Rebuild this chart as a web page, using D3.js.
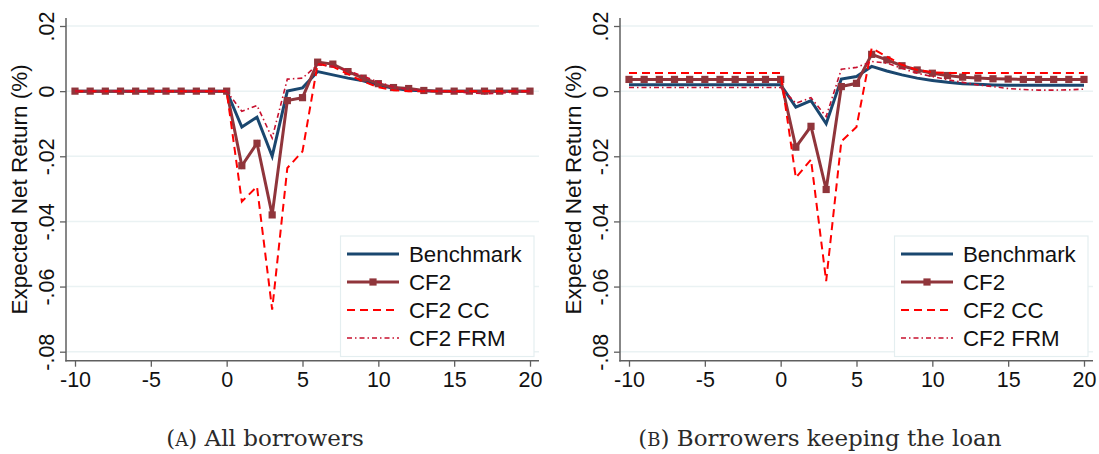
<!DOCTYPE html>
<html>
<head>
<meta charset="utf-8">
<script src="https://cdn.jsdelivr.net/npm/d3@7"></script>
<style>
  body { margin: 0; background: #ffffff; }
  svg { display: block; }
</style>
</head>
<body>
<svg id="chart" width="1099" height="454"></svg>
<script>
// Event time (periods relative to the shock)
const periods = [-10, -9, -8, -7, -6, -5, -4, -3, -2, -1, 0, 1, 2, 3, 4, 5, 6, 7, 8, 9, 10,
                 11, 12, 13, 14, 15, 16, 17, 18, 19, 20];

const xTickValues = [-10, -5, 0, 5, 10, 15, 20];
const xTickLabels = ["-10", "-5", "0", "5", "10", "15", "20"];
const yTickValues = [0.02, 0, -0.02, -0.04, -0.06, -0.08];
const yTickLabels = [".02", "0", "-.02", "-.04", "-.06", "-.08"];

const seriesNames = ["Benchmark", "CF2", "CF2 CC", "CF2 FRM"];
const yTitle = "Expected Net Return (%)";

// Panel A: all borrowers
const allBenchmark = [0, 0, 0, 0, 0, 0, 0, 0, 0, 0, 0,
  -0.011, -0.008, -0.020, 0.000, 0.001, 0.006, 0.005, 0.004, 0.0032, 0.0019,
  0.0009, 0.0003, 0.0001, 0, 0, 0, 0, 0, 0, 0];
const allCF2 = [0, 0, 0, 0, 0, 0, 0, 0, 0, 0, 0,
  -0.0229, -0.016, -0.038, -0.0029, -0.002, 0.0089, 0.0083, 0.006, 0.004, 0.0023,
  0.0011, 0.0008, 0.0002, 0, 0, 0, 0, 0, 0, 0];
const allCF2CC = [0, 0, 0, 0, 0, 0, 0, 0, 0, 0, 0,
  -0.0339, -0.0293, -0.0671, -0.0236, -0.0185, 0.0084, 0.0075, 0.0052, 0.003, 0.0012,
  0.0003, 0, 0, 0, 0, 0, 0, 0, 0, 0];
const allCF2FRM = [0, 0, 0, 0, 0, 0, 0, 0, 0, 0, 0,
  -0.0062, -0.0044, -0.0144, 0.0037, 0.004, 0.0081, 0.0076, 0.0063, 0.0046, 0.0028,
  0.0013, 0.0005, 0.0001, 0, -0.0002, -0.0005, -0.0008, -0.0006, -0.0003, 0];

// Panel B: borrowers keeping the loan
const keepBenchmark = [0.002, 0.002, 0.002, 0.002, 0.002, 0.002, 0.002, 0.002, 0.002, 0.002, 0.002,
  -0.0049, -0.0029, -0.010, 0.0037, 0.0045, 0.0076, 0.0062, 0.005, 0.004, 0.0033,
  0.0027, 0.0023, 0.0021, 0.0019, 0.0018, 0.0018, 0.0018, 0.0018, 0.0018, 0.0018];
const keepCF2 = [0.0036, 0.0036, 0.0036, 0.0036, 0.0036, 0.0036, 0.0036, 0.0036, 0.0036, 0.0036, 0.0036,
  -0.0172, -0.0108, -0.0302, 0.0014, 0.0024, 0.0113, 0.0096, 0.0078, 0.0065, 0.0055,
  0.0048, 0.0043, 0.004, 0.0038, 0.0037, 0.0036, 0.0036, 0.0036, 0.0036, 0.0036];
const keepCF2CC = [0.0056, 0.0056, 0.0056, 0.0056, 0.0056, 0.0056, 0.0056, 0.0056, 0.0056, 0.0056, 0.0056,
  -0.0266, -0.021, -0.0583, -0.0154, -0.011, 0.0132, 0.0106, 0.0081, 0.0065, 0.0058,
  0.0056, 0.0056, 0.0056, 0.0056, 0.0056, 0.0056, 0.0056, 0.0056, 0.0056, 0.0056];
const keepCF2FRM = [0.0011, 0.0011, 0.0011, 0.0011, 0.0011, 0.0011, 0.0011, 0.0011, 0.0011, 0.0011, 0.0011,
  -0.0037, -0.002, -0.0078, 0.0067, 0.0073, 0.0091, 0.0086, 0.007, 0.0055, 0.0045,
  0.0035, 0.0027, 0.0019, 0.0014, 0.0008, 0.0005, 0.0003, 0.0003, 0.0004, 0.0006];

// Series styling, in drawing order
const styles = [
  { color: "#1a476f", width: 3,   dash: null,        marker: false },
  { color: "#90353b", width: 3,   dash: null,        marker: true  },
  { color: "#ff0000", width: 2,   dash: "8,5",       marker: false },
  { color: "#c8102e", width: 1.6, dash: "5,3,1.5,3", marker: false }
];

const panels = [
  { left: 66,  caption: ["(", "A", ")", " All borrowers"], captionX: 265,
    series: [allBenchmark, allCF2, allCF2CC, allCF2FRM] },
  { left: 620, caption: ["(", "B", ")", " Borrowers keeping the loan"], captionX: 820,
    series: [keepBenchmark, keepCF2, keepCF2CC, keepCF2FRM] }
];

const svg = d3.select("#chart");
svg.append("rect").attr("width", 1099).attr("height", 454).attr("fill", "#ffffff");

const plotTop = 18, plotBottom = 360.7, plotWidth = 473;
const axisColor = "#5f5f5f";
const sans = "'Liberation Sans', Arial, Helvetica, sans-serif";

panels.forEach(p => {
  const g = svg.append("g");
  const x0 = p.left, x1 = p.left + plotWidth;
  const x = d3.scaleLinear().domain([-10, 20]).range([x0 + 9, x1 - 9]);
  const y = d3.scaleLinear().domain([-0.08, 0.02]).range([351.7, 26]);

  // horizontal grid
  g.selectAll("line.grid").data(yTickValues).join("line")
    .attr("class", "grid")
    .attr("x1", x0).attr("x2", x1)
    .attr("y1", d => y(d)).attr("y2", d => y(d))
    .attr("stroke", "#eaf2f3").attr("stroke-width", 1.5);

  // x axis
  const xAxis = g.append("g").attr("transform", `translate(0,${plotBottom})`)
    .call(d3.axisBottom(x).tickValues(xTickValues)
      .tickFormat((d, i) => xTickLabels[i]).tickSize(6).tickPadding(5));
  xAxis.select(".domain").remove();
  xAxis.selectAll(".tick line").attr("stroke", axisColor).attr("stroke-width", 1.3);
  xAxis.selectAll(".tick text")
    .attr("font-family", sans).attr("font-size", 21.5).attr("fill", "#111")
    .attr("dy", null).attr("y", 26.5);
  g.append("line").attr("x1", x0 - 0.7).attr("x2", x1).attr("y1", plotBottom).attr("y2", plotBottom)
    .attr("stroke", axisColor).attr("stroke-width", 1.5);

  // y axis
  const yAxis = g.append("g").attr("transform", `translate(${x0},0)`)
    .call(d3.axisLeft(y).tickValues(yTickValues)
      .tickFormat((d, i) => yTickLabels[i]).tickSize(6));
  yAxis.select(".domain").remove();
  yAxis.selectAll(".tick line").attr("stroke", axisColor).attr("stroke-width", 1.3);
  yAxis.selectAll(".tick text")
    .attr("font-family", sans).attr("font-size", 21.5).attr("fill", "#111")
    .attr("x", null).attr("dy", null)
    .attr("text-anchor", "middle")
    .attr("transform", "translate(-12,0) rotate(-90)");
  g.append("line").attr("x1", x0).attr("x2", x0).attr("y1", plotTop).attr("y2", plotBottom + 0.7)
    .attr("stroke", axisColor).attr("stroke-width", 1.5);

  // y title
  g.append("text")
    .attr("transform", `translate(${x0 - 39},${(plotTop + plotBottom) / 2}) rotate(-90)`)
    .attr("text-anchor", "middle")
    .attr("font-family", sans).attr("font-size", 22.5).attr("fill", "#111")
    .text(yTitle);

  // series lines
  const line = d3.line().x((d, i) => x(periods[i])).y(d => y(d));
  p.series.forEach((vals, k) => {
    const s = styles[k];
    g.append("path").datum(vals)
      .attr("d", line)
      .attr("fill", "none")
      .attr("stroke", s.color)
      .attr("stroke-width", s.width)
      .attr("stroke-dasharray", s.dash);
    if (s.marker) {
      g.selectAll(null).data(vals).join("rect")
        .attr("x", (d, i) => x(periods[i]) - 3.6)
        .attr("y", d => y(d) - 3.6)
        .attr("width", 7.2).attr("height", 7.2)
        .attr("fill", s.color);
    }
  });

  // legend
  const lg = g.append("g").attr("transform", `translate(${x0 + 274.5},236)`);
  lg.append("rect").attr("width", 193.5).attr("height", 120.5)
    .attr("fill", "#ffffff").attr("stroke", "#e4eef0").attr("stroke-width", 1.2);
  seriesNames.forEach((name, k) => {
    const s = styles[k];
    const cy = 18 + k * 28;
    lg.append("line").attr("x1", 6.5).attr("x2", 58.5).attr("y1", cy).attr("y2", cy)
      .attr("stroke", s.color).attr("stroke-width", s.width)
      .attr("stroke-dasharray", s.dash);
    if (s.marker) {
      lg.append("rect").attr("x", 32.5 - 3.6).attr("y", cy - 3.6)
        .attr("width", 7.2).attr("height", 7.2).attr("fill", s.color);
    }
    lg.append("text").attr("x", 68.5).attr("y", cy + 8)
      .attr("font-family", sans).attr("font-size", 22.3).attr("fill", "#111")
      .text(name);
  });

  // caption
  const cap = svg.append("text")
    .attr("x", p.captionX).attr("y", 446)
    .attr("text-anchor", "middle")
    .attr("font-family", "'DejaVu Serif', 'Liberation Serif', serif")
    .attr("font-size", 23).attr("fill", "#2a2a2a");
  cap.append("tspan").text(p.caption[0]);
  cap.append("tspan").attr("font-size", 18).text(p.caption[1]);
  cap.append("tspan").text(p.caption[2]);
  cap.append("tspan").text(p.caption[3]);
});
</script>
</body>
</html>
